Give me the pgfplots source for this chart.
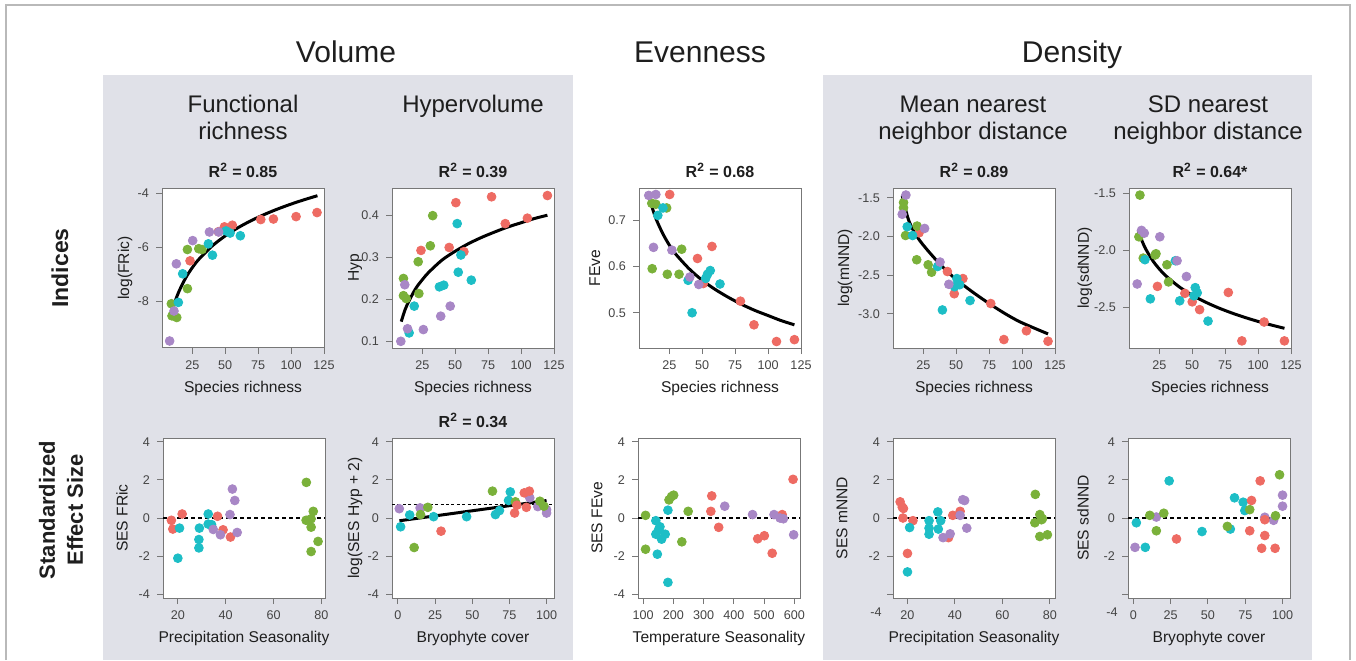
\documentclass[border=0pt]{standalone}
\usepackage{fontspec}
\setmainfont{Liberation Sans}
\usepackage{pgfplots}
\pgfplotsset{compat=1.18}
\definecolor{cR}{HTML}{EE6B63}
\definecolor{cG}{HTML}{7AB13A}
\definecolor{cT}{HTML}{1DBEC6}
\definecolor{cP}{HTML}{A887C6}
\definecolor{bg}{HTML}{E0E1E8}
\definecolor{tk}{HTML}{444444}
\definecolor{ax}{HTML}{777777}
\definecolor{txt}{HTML}{1E1E1E}
\pgfplotsset{
 base/.style={scale only axis, width=81pt, height=80pt, anchor=north west,
  axis background/.style={fill=white},
  axis line style={ax, line width=0.5pt},
  tick style={ax, line width=0.5pt},
  major tick length=3pt, tick align=outside, xtick pos=bottom, ytick pos=left,
  tick label style={font=\fontsize{6.3}{7}\selectfont, text=tk},
  /pgf/number format/assume math mode=true, clip=false,
  every axis x label/.style={at={(axis description cs:0.5,0)}, anchor=center, yshift=-20pt, font=\fontsize{7.8}{9}\selectfont, text=txt},
  every axis y label/.style={rotate=90, anchor=center, font=\fontsize{7.8}{9}\selectfont, text=txt}},
 ylo/.style={ylabel style={at={(axis description cs:-#1,0.5)}}},
 sr/.style={xmin=2, xmax=125, xtick={25,50,75,100,125}, xlabel={Species richness}},
 ses/.style={ymin=-4.2, ymax=4.2, ytick={-4,-2,0,2,4}},
 pR/.style={only marks, mark=*, color=cR, mark size=2.2pt},
 pG/.style={only marks, mark=*, color=cG, mark size=2.2pt},
 pT/.style={only marks, mark=*, color=cT, mark size=2.2pt},
 pP/.style={only marks, mark=*, color=cP, mark size=2.2pt},
 fitline/.style={black, line width=1.5pt, smooth, no marks},
 zline/.style={black, line width=0.6pt, dash pattern=on 2pt off 1.5pt, no marks},
}
\newcommand{\rsq}[1]{\node[anchor=base, font=\bfseries\fontsize{8}{9}\selectfont, text=txt, yshift=5.5pt] at (rel axis cs:0.5,1) {R\textsuperscript{2} = #1};}
\begin{document}
\begin{tikzpicture}
\path[use as bounding box] (0pt,0pt) rectangle (678pt,330pt);
\fill[bg] (51.5pt,0pt) rectangle (286.5pt,292.5pt);
\fill[bg] (411.5pt,0pt) rectangle (656pt,292.5pt);
\draw[gray!55, line width=0.6pt] (3pt,0pt) -- (3pt,327.5pt) -- (675pt,327.5pt) -- (675pt,0pt);
% titles
\node[anchor=base, font=\fontsize{15}{18}\selectfont, text=txt] at (173pt,298.5pt) {Volume};
\node[anchor=base, font=\fontsize{15}{18}\selectfont, text=txt] at (350pt,298.5pt) {Evenness};
\node[anchor=base, font=\fontsize{15}{18}\selectfont, text=txt] at (536pt,298.5pt) {Density};
\node[anchor=base, font=\fontsize{12}{14}\selectfont, text=txt] at (121.5pt,273.5pt) {Functional};
\node[anchor=base, font=\fontsize{12}{14}\selectfont, text=txt] at (121.5pt,260pt) {richness};
\node[anchor=base, font=\fontsize{12}{14}\selectfont, text=txt] at (236.5pt,273.5pt) {Hypervolume};
\node[anchor=base, font=\fontsize{12}{14}\selectfont, text=txt] at (486.5pt,273.5pt) {Mean nearest};
\node[anchor=base, font=\fontsize{12}{14}\selectfont, text=txt] at (486.5pt,260pt) {neighbor distance};
\node[anchor=base, font=\fontsize{12}{14}\selectfont, text=txt] at (604pt,273.5pt) {SD nearest};
\node[anchor=base, font=\fontsize{12}{14}\selectfont, text=txt] at (604pt,260pt) {neighbor distance};
\node[rotate=90, font=\bfseries\fontsize{11.5}{14}\selectfont, text=txt] at (30pt,196pt) {Indices};
\node[rotate=90, align=center, font=\bfseries\fontsize{11}{14}\selectfont, text=txt] at (30.5pt,75pt) {Standardized\\Effect Size};

% ---------- Row 1 ----------
\begin{axis}[base, sr, at={(81pt,236pt)}, ymin=-9.74, ymax=-3.81, ytick={-8,-6,-4}, ylabel={log(FRic)}, ylo=0.228]
\addplot[pR] coordinates {(23.3,-6.51) (44.8,-5.43) (49.4,-5.25) (55.4,-5.19) (77,-4.98) (86.6,-4.96) (103.8,-4.87) (119.7,-4.72)};
\addplot[pG] coordinates {(9.1,-8.10) (9.6,-8.55) (13.2,-8.61) (21.3,-7.54) (21.3,-6.09) (29.9,-6.06) (32.4,-6.09)};
\addplot[pT] coordinates {(14.4,-8.05) (17.7,-6.99) (37.2,-5.88) (40.3,-6.30) (50.6,-5.40) (53.7,-5.48) (61.5,-5.58)};
\addplot[pP] coordinates {(7.8,-9.48) (11.1,-8.37) (12.9,-6.62) (25.3,-5.76) (38,-5.44) (45,-5.44)};
\addplot[fitline] coordinates {(9,-8.497) (12,-8.008) (15,-7.629) (20,-7.140) (25,-6.761) (30,-6.451) (40,-5.963) (50,-5.584) (60,-5.274) (70,-5.012) (80,-4.785) (90,-4.585) (100,-4.406) (110,-4.244) (120,-4.096)};
\rsq{0.85}
\end{axis}

\begin{axis}[base, sr, at={(196pt,236pt)}, ymin=0.084, ymax=0.466, ytick={0.1,0.2,0.3,0.4}, ylabel={Hyp}, ylo=0.228]
\addplot[pR] coordinates {(50.5,0.431) (77.6,0.445) (120,0.448) (88,0.381) (104.8,0.394) (24,0.317) (45.4,0.324) (56.6,0.314)};
\addplot[pG] coordinates {(32.9,0.400) (31.1,0.328) (21.9,0.290) (10.7,0.250) (10.7,0.209) (12.8,0.202) (22.4,0.214)};
\addplot[pT] coordinates {(51.5,0.381) (54.3,0.306) (52.3,0.265) (62.2,0.246) (38,0.230) (41.3,0.234) (18.9,0.184) (15,0.120)};
\addplot[pP] coordinates {(11.7,0.235) (46.2,0.184) (39,0.160) (13.8,0.130) (25.8,0.128) (8.7,0.100)};
\addplot[fitline] coordinates {(9,0.147) (12,0.176) (15,0.197) (20,0.226) (25,0.247) (30,0.265) (40,0.294) (50,0.315) (60,0.333) (70,0.348) (80,0.361) (90,0.373) (100,0.383) (110,0.393) (120,0.401)};
\rsq{0.39}
\end{axis}

\begin{axis}[base, sr, at={(319.5pt,236pt)}, ymin=0.424, ymax=0.769, ytick={0.5,0.6,0.7}, ylabel={FEve}, ylo=0.272]
\addplot[pR] coordinates {(25.3,0.755) (57.4,0.643) (46.4,0.617) (50.8,0.563) (79,0.525) (89.3,0.474) (106.4,0.438) (120,0.442)};
\addplot[pG] coordinates {(11.7,0.736) (14.8,0.734) (23,0.726) (34.4,0.637) (12,0.595) (23.5,0.583) (32.4,0.583)};
\addplot[pT] coordinates {(20.2,0.726) (16.3,0.710) (56.1,0.591) (54,0.583) (52.6,0.574) (63.5,0.562) (39.3,0.570) (42.3,0.500)};
\addplot[pP] coordinates {(9.4,0.753) (14.8,0.755) (13,0.641) (27,0.635) (40.6,0.577) (47.4,0.561)};
\addplot[fitline] coordinates {(10,0.747) (12,0.727) (15,0.702) (20,0.671) (25,0.646) (30,0.626) (40,0.595) (50,0.570) (60,0.550) (70,0.533) (80,0.518) (90,0.505) (100,0.494) (110,0.483) (120,0.474)};
\rsq{0.68}
\end{axis}

\begin{axis}[base, sr, at={(446.5pt,236pt)}, ymin=-3.439, ymax=-1.374, ytick={-3,-2.5,-2,-1.5}, yticklabel style={/pgf/number format/.cd, fixed, fixed zerofill, precision=1}, ylabel={log(mNND)}, ylo=0.296]
\addplot[pR] coordinates {(21.8,-1.952) (43.3,-2.452) (55.1,-2.543) (48.5,-2.739) (76.2,-2.865) (86.2,-3.330) (103.3,-3.217) (119.7,-3.352)};
\addplot[pG] coordinates {(10,-1.561) (10,-1.63) (11.5,-1.987) (20.3,-1.865) (20,-2.300) (28.7,-2.365) (31.3,-2.461)};
\addplot[pT] coordinates {(12.8,-1.874) (16.9,-1.987) (35.9,-2.387) (50.5,-2.543) (52.6,-2.622) (60.5,-2.826) (39.5,-2.948) (48.7,-2.648)};
\addplot[pP] coordinates {(11.8,-1.465) (9,-1.713) (26,-1.896) (37.7,-2.330) (44.4,-2.617)};
\addplot[fitline] coordinates {(9,-1.47) (14.1,-1.80) (21.8,-2.04) (34.6,-2.30) (47.4,-2.517) (60.3,-2.69) (73.1,-2.843) (85.9,-2.983) (98.7,-3.104) (119.7,-3.257)};
\rsq{0.89}
\end{axis}

\begin{axis}[base, sr, at={(564.5pt,236pt)}, ymin=-2.853, ymax=-1.456, ytick={-2.5,-2,-1.5}, yticklabel style={/pgf/number format/.cd, fixed, fixed zerofill, precision=1}, ylabel={log(sdNND)}, ylo=0.272]
\addplot[pR] coordinates {(23.6,-2.315) (44.4,-2.376) (50,-2.450) (55.6,-2.518) (77.4,-2.368) (87.7,-2.791) (104.6,-2.626) (120,-2.791)};
\addplot[pG] coordinates {(10.3,-1.518) (9.5,-1.882) (12.8,-2.068) (21.8,-2.041) (22.5,-2.03) (30.8,-2.126) (32,-2.276)};
\addplot[pT] coordinates {(14.1,-2.082) (18.2,-2.424) (37.2,-2.091) (40.5,-2.441) (52.3,-2.326) (53.8,-2.371) (51.3,-2.397) (62,-2.618)};
\addplot[pP] coordinates {(11.5,-1.826) (13.6,-1.850) (25.4,-1.882) (38.5,-2.091) (45.6,-2.229) (8.2,-2.294)};
\addplot[fitline] coordinates {(9,-1.826) (12,-1.921) (15,-1.995) (20,-2.090) (25,-2.163) (30,-2.223) (40,-2.318) (50,-2.392) (60,-2.452) (70,-2.503) (80,-2.547) (90,-2.586) (100,-2.621) (110,-2.652) (120,-2.681)};
\rsq{0.64*}
\end{axis}

% ---------- Row 2 ----------
\begin{axis}[base, ses, at={(81.5pt,111pt)}, xmin=13.8, xmax=81.5, xtick={20,40,60,80}, xlabel={Precipitation Seasonality}, ylabel={SES FRic}, ylo=0.253]
\addplot[zline] coordinates {(13.8,0) (81.5,0)};
\addplot[pR] coordinates {(17.3,-0.12) (17.9,-0.58) (21.8,0.21) (36.6,0.09) (38.9,-0.62) (42,-1.0)};
\addplot[pT] coordinates {(20.7,-0.53) (20,-2.11) (29,-0.53) (28.8,-1.13) (28.8,-1.57) (32.7,0.21) (32.7,-0.32) (34.1,-0.35)};
\addplot[pP] coordinates {(34.8,-0.60) (37.8,-0.88) (42.8,1.52) (43.8,0.92) (41.8,0.18) (44.8,-0.76)};
\addplot[pG] coordinates {(73.7,1.87) (73.6,-0.12) (76.6,0.35) (75.7,-0.04) (75.7,-0.48) (75.7,-1.76) (78.6,-1.23)};
\end{axis}

\begin{axis}[base, ses, at={(196pt,111pt)}, xmin=-4, xmax=105, xtick={0,25,50,75,100}, xlabel={Bryophyte cover}, ylabel={log(SES Hyp + 2)}, ylo=0.228]
\addplot[black, line width=0.5pt, dash pattern=on 1.5pt off 1.2pt] coordinates {(-4,0.693) (105,0.693)};
\addplot[pP] coordinates {(0.9,0.49) (14.9,0.53) (88.7,1.06) (94.1,0.60) (100,0.44) (100,0.26)};
\addplot[pT] coordinates {(1.8,-0.46) (7.9,0.16) (24,0.07) (46.2,0.07) (65.6,0.18) (68.3,0.39) (74.4,0.92) (75.6,1.37)};
\addplot[pG] coordinates {(10.9,-1.55) (15.2,0.18) (20.1,0.56) (63.6,1.41) (79,0.85) (95.5,0.88) (98.2,0.62)};
\addplot[pR] coordinates {(29,-0.69) (78.5,0.26) (80,0.67) (85,1.32) (88.4,1.41) (86.4,0.56)};
\addplot[fitline] coordinates {(1,-0.145) (100,0.915)};
\rsq{0.34}
\end{axis}

\begin{axis}[base, ses, at={(319pt,111pt)}, xmin=83, xmax=619, xtick={100,200,300,400,500,600}, xlabel={Temperature Seasonality}, ylabel={SES FEve}, ylo=0.253]
\addplot[zline] coordinates {(83,0) (619,0)};
\addplot[pG] coordinates {(108,0.14) (108,-1.64) (185.6,0.95) (201,1.20) (194,1.13) (228,-1.25) (249,0.35)};
\addplot[pT] coordinates {(142,-0.14) (155.6,-0.46) (142,-0.85) (161,-1.11) (173,-0.85) (147,-1.90) (182,0.41) (182,-3.38) (151,-0.62)};
\addplot[pR] coordinates {(327,1.16) (324,0.35) (350,-0.49) (479,-1.09) (501,-0.93) (527,-1.85) (560,0.18) (596,2.03)};
\addplot[pP] coordinates {(370,0.62) (462,0.18) (533,0.18) (553,0.0) (564,-0.04) (598,-0.88)};
\end{axis}

\begin{axis}[base, ses, at={(446.5pt,111pt)}, xmin=13.9, xmax=82.2, xtick={20,40,60,80}, yticklabels={,-2,0,2,4}, xlabel={Precipitation Seasonality}, ylabel={SES mNND}, ylo=0.315]
\addplot[zline] coordinates {(13.9,0) (82.2,0)};
\addplot[pR] coordinates {(16.9,0.85) (17.8,0.57) (18.3,0.50) (18.1,0) (22.3,-0.14) (20,-1.86) (37.3,-1.03) (39.1,0.14) (42.2,0.35)};
\addplot[pT] coordinates {(20.9,-0.50) (20,-2.83) (29.1,-0.14) (29.1,-0.53) (29.1,-0.85) (32.8,0.32) (33,-0.58) (34,-0.14)};
\addplot[pP] coordinates {(35,-1.03) (38,-0.83) (42.2,0.14) (43.3,0.96) (44.1,0.92) (45,-0.53)};
\addplot[pG] coordinates {(73.9,1.24) (73.7,-0.25) (75.8,0.18) (76.5,-0.09) (75.8,-0.97) (79,-0.88) (76.9,-0.04)};
\end{axis}

\begin{axis}[base, ses, at={(564pt,111pt)}, xmin=-3.6, xmax=105, xtick={0,25,50,75,100}, yticklabels={,-2,0,2,4}, xlabel={Bryophyte cover}, ylabel={SES sdNND}, ylo=0.278]
\addplot[zline] coordinates {(-3.6,0) (105,0)};
\addplot[pT] coordinates {(2,-0.25) (8,-1.54) (24,1.95) (46,-0.71) (65,-0.58) (67.8,1.06) (73.6,0.83) (74.7,0.39)};
\addplot[pP] coordinates {(1.1,-1.54) (15.4,0.05) (88.1,0.04) (94,-0.12) (100,1.20) (100,0.62)};
\addplot[pG] coordinates {(11,0.14) (20.4,0.25) (15.4,-0.67) (63,-0.44) (78,0.44) (95.3,0.12) (98,2.27)};
\addplot[pR] coordinates {(28.9,-1.10) (78,-0.67) (79.2,0.92) (85,1.95) (86,-1.59) (88.1,-0.92) (88.1,-0.09) (95,-1.59)};
\end{axis}
\node[font=\fontsize{6.3}{7}\selectfont, text=tk] at (438pt,24pt) {-4};
\node[font=\fontsize{6.3}{7}\selectfont, text=tk] at (556pt,24pt) {-4};
\end{tikzpicture}
\end{document}
